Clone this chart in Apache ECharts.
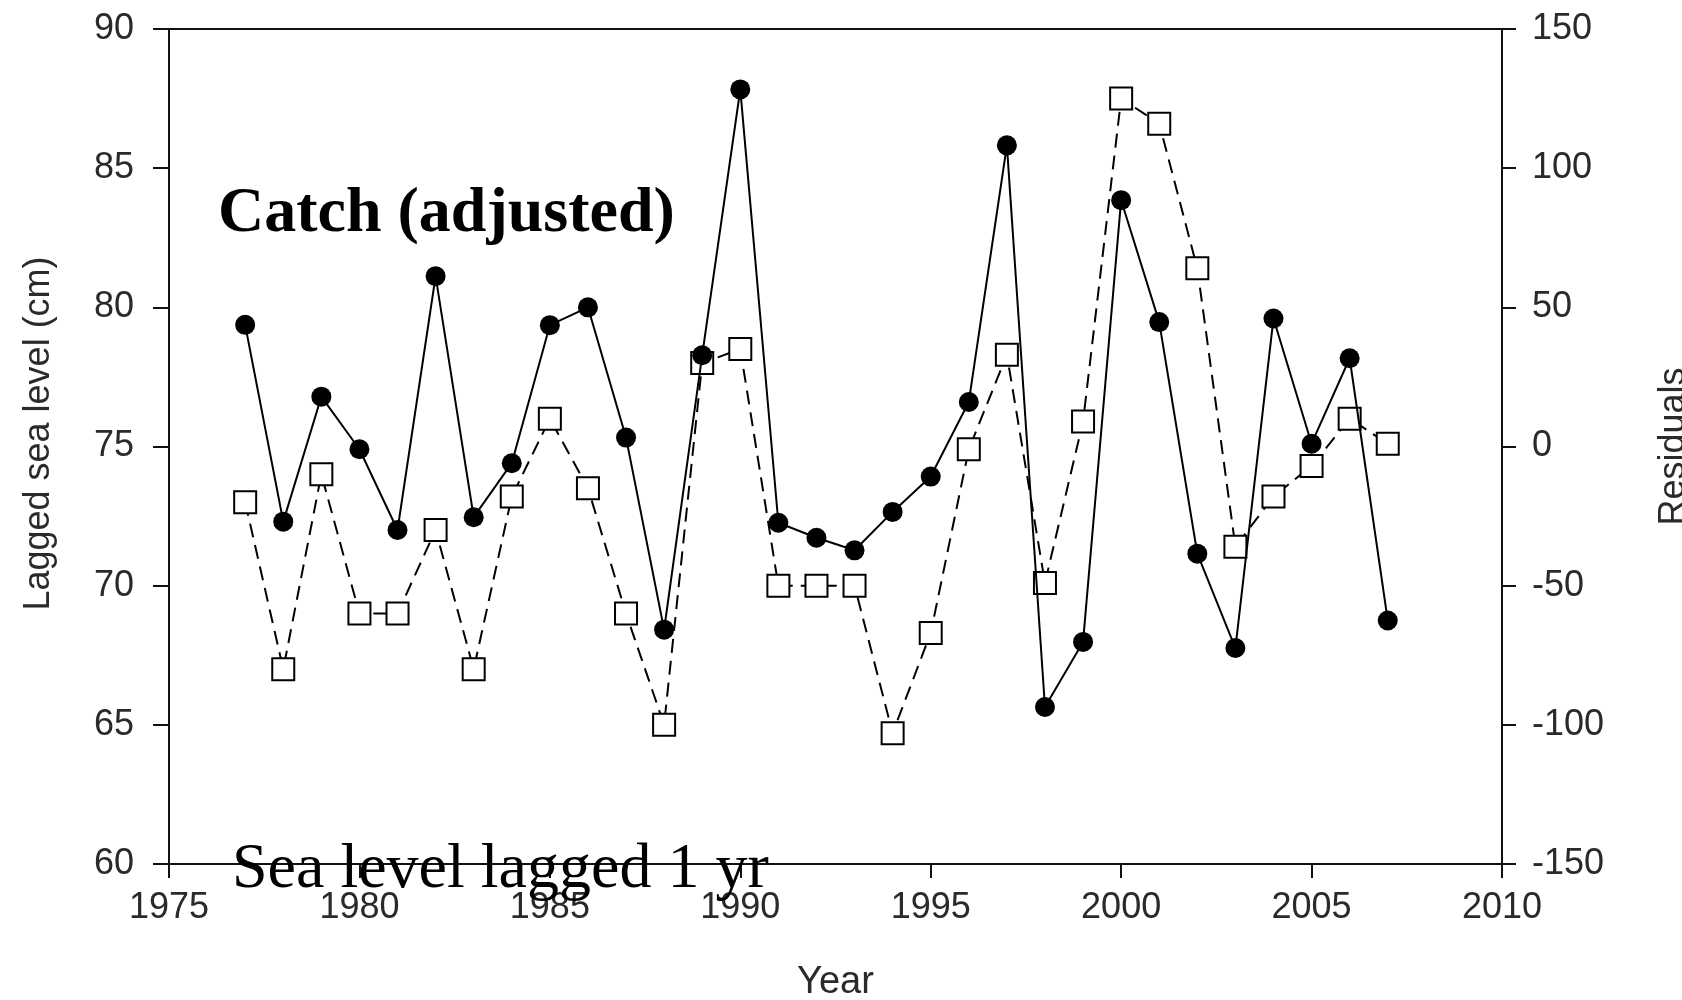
<!DOCTYPE html>
<html>
<head>
<meta charset="utf-8">
<script src="https://cdn.jsdelivr.net/npm/echarts@6/dist/echarts.min.js"></script>
<style>
html,body{margin:0;padding:0;background:#fff;}
#chart{width:1682px;height:1000px;}
</style>
</head>
<body>
<div id="chart"></div>
<script>
// ---- data ----
const years = [1977,1978,1979,1980,1981,1982,1983,1984,1985,1986,1987,1988,1989,1990,1991,1992,1993,1994,1995,1996,1997,1998,1999,2000,2001,2002,2003,2004,2005,2006,2007];
// Catch (adjusted) residuals, right axis
const catchResiduals = [43.7,-27,17.9,-1,-30,61.2,-25.4,-6,43.6,50,3.2,-65.8,32.8,128.3,-27.4,-32.8,-37.3,-23.5,-10.8,16,108.2,-93.6,-70.2,88.5,44.7,-38.5,-72.4,46,1,31.7,-62.5];
// Sea level lagged 1 yr (cm), left axis
const seaLevelLagged = [73,67,74,69,69,72,67,73.2,76,73.5,69,65,78,78.5,70,70,70,64.7,68.3,74.9,78.3,70.1,75.9,87.5,86.6,81.4,71.4,73.2,74.3,76,75.1];
const xTicks = [1975,1980,1985,1990,1995,2000,2005,2010];
const leftTicks = [60,65,70,75,80,85,90];
const rightTicks = [-150,-100,-50,0,50,100,150];

const pairs = (xs, ys) => xs.map((x, i) => [x, ys[i]]);

const labelFont = {fontFamily: 'Liberation Sans, Arial, sans-serif', fontSize: 36, color: '#2a2a2a'};
const axisLineStyle = {color: '#111', width: 2};

const chart = echarts.init(document.getElementById('chart'), null, {renderer: 'canvas'});
chart.setOption({
  animation: false,
  backgroundColor: '#fff',
  grid: {left: 169, right: 180, top: 29, bottom: 136, containLabel: false, outerBoundsMode: 'none'},
  xAxis: [{
    type: 'value', min: xTicks[0], max: xTicks[xTicks.length-1], interval: 5,
    position: 'bottom',
    name: 'Year', nameLocation: 'middle', nameGap: 100,
    nameTextStyle: {fontFamily: 'Liberation Sans, Arial, sans-serif', fontSize: 38, color: '#2a2a2a'},
    axisLine: {show: true, onZero: false, lineStyle: axisLineStyle},
    axisTick: {show: true, inside: false, length: 14, lineStyle: axisLineStyle},
    axisLabel: Object.assign({margin: 26, formatter: v => String(v)}, labelFont),
    splitLine: {show: false}
  }, {
    type: 'value', min: xTicks[0], max: xTicks[xTicks.length-1], interval: 5,
    position: 'top',
    axisLine: {show: true, onZero: false, lineStyle: axisLineStyle},
    axisTick: {show: false}, axisLabel: {show: false}, splitLine: {show: false}
  }],
  yAxis: [{
    type: 'value', min: leftTicks[0], max: leftTicks[leftTicks.length-1], interval: 5,
    position: 'left',
    name: 'Lagged sea level (cm)', nameLocation: 'middle', nameGap: 112, nameRotate: 90,
    nameTextStyle: {fontFamily: 'Liberation Sans, Arial, sans-serif', fontSize: 36, color: '#2a2a2a', padding: [0, 0, 0, 26]},
    axisLine: {show: true, onZero: false, lineStyle: axisLineStyle},
    axisTick: {show: true, inside: false, length: 16, lineStyle: axisLineStyle},
    axisLabel: Object.assign({margin: 35}, labelFont),
    splitLine: {show: false}
  }, {
    type: 'value', min: rightTicks[0], max: rightTicks[rightTicks.length-1], interval: 50,
    position: 'right',
    name: 'Residuals', nameLocation: 'middle', nameGap: 154, nameRotate: 90,
    nameTextStyle: {fontFamily: 'Liberation Sans, Arial, sans-serif', fontSize: 36, color: '#2a2a2a'},
    axisLine: {show: true, onZero: false, lineStyle: axisLineStyle},
    axisTick: {show: true, inside: false, length: 14, lineStyle: axisLineStyle},
    axisLabel: Object.assign({margin: 30}, labelFont),
    splitLine: {show: false}
  }],
  series: [{
    name: 'Sea level lagged 1 yr',
    type: 'line', xAxisIndex: 0, yAxisIndex: 0,
    data: pairs(years, seaLevelLagged),
    symbol: 'rect', symbolSize: 22, showSymbol: true, showAllSymbol: true,
    lineStyle: {color: '#000', width: 2, type: [14, 8]},
    itemStyle: {color: '#fff', borderColor: '#000', borderWidth: 2},
    z: 2
  }, {
    name: 'Catch (adjusted)',
    type: 'line', xAxisIndex: 0, yAxisIndex: 1,
    data: pairs(years, catchResiduals),
    symbol: 'circle', symbolSize: 20, showSymbol: true, showAllSymbol: true,
    lineStyle: {color: '#000', width: 2, type: 'solid'},
    itemStyle: {color: '#000', borderColor: '#000', borderWidth: 0},
    z: 3
  }],
  graphic: [{
    type: 'text', left: 218, top: 182, z: 100,
    style: {text: 'Catch (adjusted)', font: 'bold 64px "Liberation Serif", "Times New Roman", serif', fill: '#000'}
  }, {
    type: 'text', left: 232, top: 838, z: 100,
    style: {text: 'Sea level lagged 1 yr', font: '64px "Liberation Serif", "Times New Roman", serif', fill: '#000'}
  }]
});
</script>
</body>
</html>
